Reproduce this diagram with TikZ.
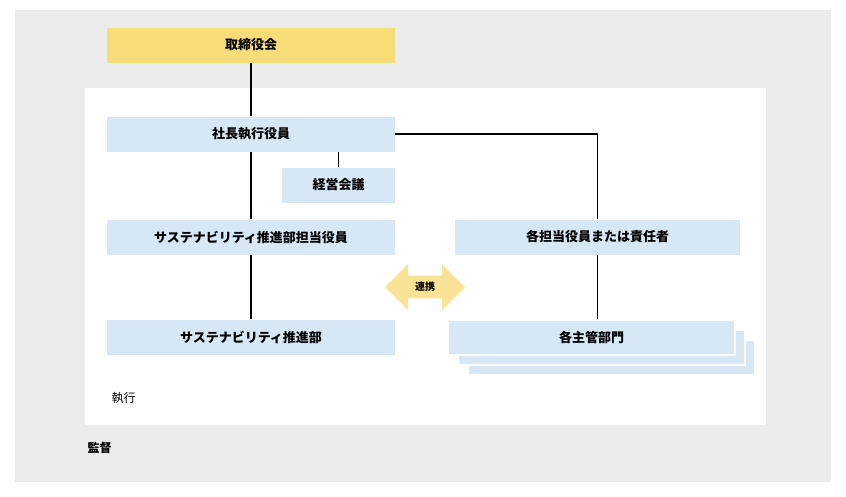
\documentclass[tikz,border=0pt]{standalone}
\usepackage{fontspec}
\setmainfont{Noto Sans CJK JP}
\usetikzlibrary{shapes.arrows,positioning}
\definecolor{boxblue}{RGB}{214,232,246}
\definecolor{boxyellow}{RGB}{248,220,120}
\definecolor{arrowyellow}{RGB}{250,226,150}
\definecolor{bggray}{RGB}{236,236,236}
\tikzstyle{box}=[fill=boxblue,minimum height=35pt,inner sep=0pt,font=\fontsize{13}{15}\selectfont\bfseries]
\tikzstyle{conn}=[line width=1.2pt]

\begin{document}
\begin{tikzpicture}[x=1pt,y=-1pt]
  \useasboundingbox (0,0) rectangle (846,496);
  \fill[bggray] (15,10) rectangle (831,482);
  \fill[white] (85,88) rectangle (766,425);

  \node[box, fill=boxyellow, minimum width=288pt] (board) at (251,45) {取締役会};
  \node[box, minimum width=288pt] (ceo) at (251,134) {社長執行役員};
  \node[box, minimum width=113pt] (mtg) at (338.5,185) {経営会議};
  \node[box, minimum width=288pt] (officer) at (251,237) {サステナビリティ推進部担当役員};
  \node[box, minimum width=285pt] (resp) at (597.5,237) {各担当役員または責任者};
  \node[box, minimum width=288pt] (dept) at (251,337) {サステナビリティ推進部};
  % stacked boxes
  \fill[boxblue, draw=white, line width=2pt] (468,340) rectangle (755,375);
  \fill[boxblue, draw=white, line width=2pt] (458,330) rectangle (745,365);
  \node[box, minimum width=287pt, draw=white, line width=2pt] (units) at (591.5,337) {各主管部門};

  \node[double arrow, fill=arrowyellow, minimum height=80pt, minimum width=46pt,
    double arrow head extend=7pt, inner sep=2pt, font=\fontsize{10}{12}\selectfont\bfseries] (link) at (425,287) {連携};

  \node[anchor=west, font=\fontsize{12}{14}\selectfont] (exec) at (108,398) {執行};
  \node[anchor=west, font=\fontsize{12}{14}\selectfont\bfseries] (supv) at (84,448) {監督};

  \draw[conn] (board) -- (ceo);
  \draw[conn] (ceo) -- (officer);
  \draw[conn] (officer) -- (dept);
  \draw[conn] (ceo.south -| mtg) -- (mtg);
  \draw[conn] (ceo.east) -| (resp.north);
  \draw[conn] (resp) -- (resp |- units.north);
\end{tikzpicture}
\end{document}
